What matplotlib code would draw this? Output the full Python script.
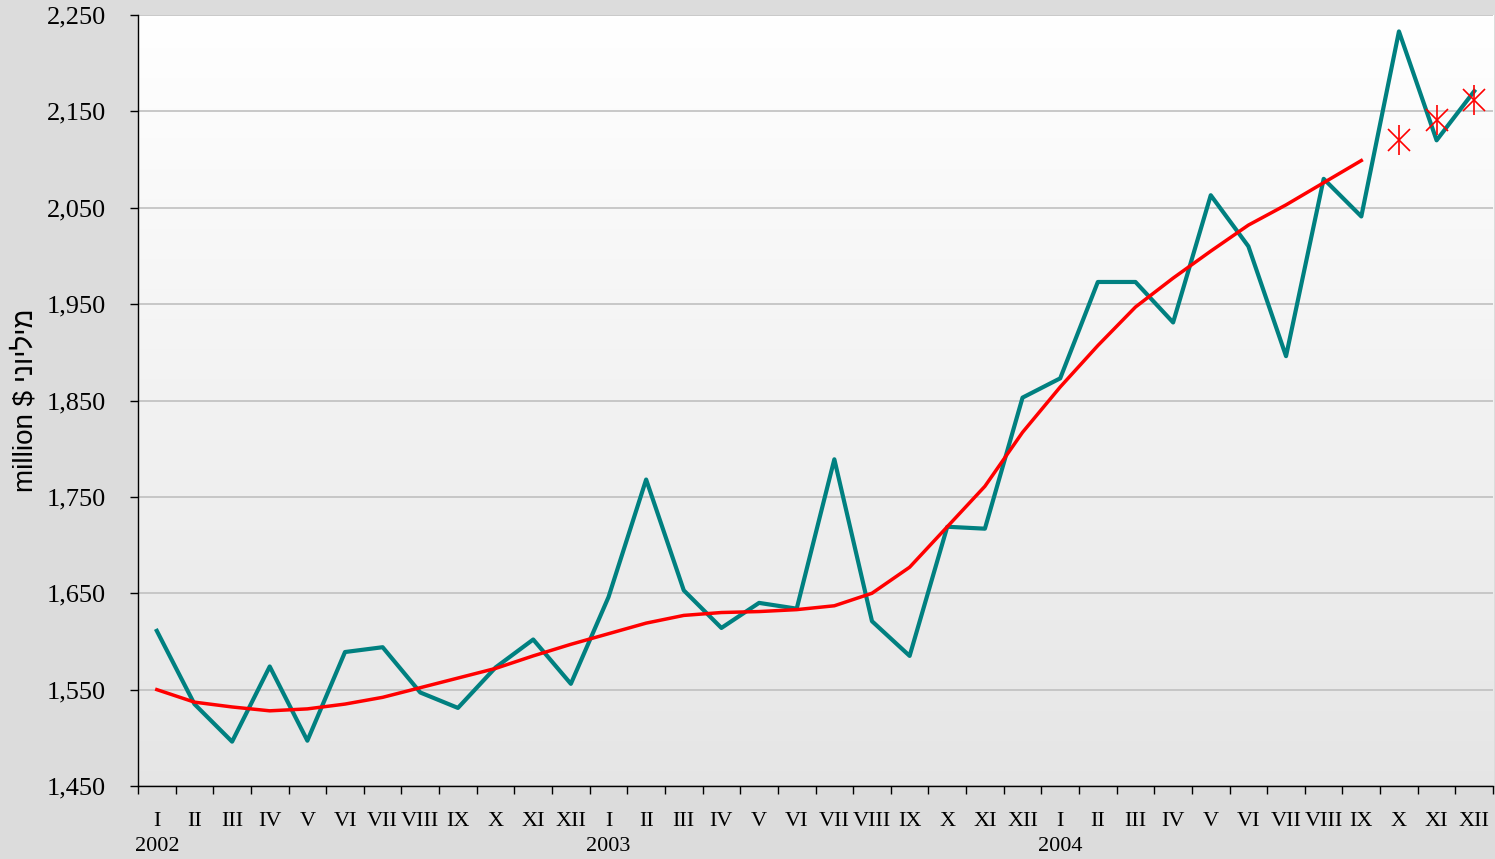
import numpy as np
import matplotlib
matplotlib.use('Agg')
from matplotlib import pyplot as plt

plt.rcParams.update({'font.size': 15})

# monthly values, Jan 2002 .. Dec 2004 (million $)
months = ['I', 'II', 'III', 'IV', 'V', 'VI', 'VII', 'VIII', 'IX', 'X', 'XI', 'XII'] * 3
years = ['2002', '2003', '2004']
actual = [1611, 1535, 1496, 1574, 1497, 1589, 1594, 1547, 1531, 1573, 1602, 1556,
          1646, 1768, 1653, 1614, 1640, 1634, 1789, 1621, 1585, 1719, 1717, 1853,
          1873, 1973, 1973, 1931, 2063, 2010, 1896, 2080, 2041, 2233, 2120, 2171]
trend = [1550, 1537, 1532, 1528, 1530, 1535, 1542, 1552, 1562, 1572, 1585, 1597,
         1608, 1619, 1627, 1630, 1631, 1633, 1637, 1650, 1677, 1719, 1761, 1817,
         1864, 1907, 1947, 1977, 2005, 2032, 2053, 2076, 2099]
forecast = [2120, 2141, 2162]   # X, XI, XII 2004

fig = plt.figure(figsize=(14.95, 8.59), dpi=100, facecolor='#dcdcdc')
ax = fig.add_axes([0.0923, 0.085, 0.9064, 0.8975])

# plot area gradient, white at top to light grey at the bottom
grad = np.linspace(1.0, 0.9, 256).reshape(-1, 1)
ax.imshow(np.dstack([grad, grad, grad]), extent=[0, 1, 0, 1], transform=ax.transAxes,
          aspect='auto', zorder=0)

x = np.arange(len(actual))
ax.plot(x, actual, color='#008080', lw=3.0, zorder=3)
ax.plot(np.arange(len(trend)), trend, color='#ff0000', lw=2.5, zorder=4)
xf = np.arange(len(trend), len(trend) + len(forecast))
ax.plot(xf, forecast, ls='none', marker='x', ms=16, mew=1.2, color='#ff0000', zorder=5)
ax.plot(xf, forecast, ls='none', marker='|', ms=22, mew=1.2, color='#ff0000', zorder=5)

ax.set_xlim(-0.5, len(actual) - 0.5)
ax.set_ylim(1450, 2250)
ax.set_yticks(np.arange(1450, 2251, 100))
ax.set_yticklabels([f'{v:,}' for v in range(1450, 2251, 100)], fontfamily='Liberation Serif',
                   fontsize=19)
ax.yaxis.grid(True, color='#c0c0c0', lw=1.2)
for gl in ax.get_ygridlines():
    gl.set_zorder(1)

ax.set_xticks(np.arange(-0.5, len(actual), 1.0))
ax.set_xticklabels([])
ax.set_xticks(x, minor=True)
ax.set_xticklabels(months, minor=True, fontfamily='Liberation Serif', fontsize=16)
ax.tick_params(axis='x', which='major', length=6, direction='out', width=1)
ax.tick_params(axis='x', which='minor', length=0, pad=19)
ax.tick_params(axis='y', length=6, width=1, pad=17)

for i, yr in enumerate(years):
    ax.text(i * 12, -0.079, yr, transform=ax.get_xaxis_transform(), ha='center', va='center',
            fontfamily='Liberation Serif', fontsize=16)

ax.set_ylabel('million $ ' + 'מיליוני'[::-1], fontfamily='Liberation Sans', fontsize=20)
ax.yaxis.set_label_coords(-0.083, 0.5)
ax.yaxis.label.set_va('center')

for s in ['top', 'right']:
    ax.spines[s].set_visible(False)
ax.spines['left'].set_linewidth(1)
ax.spines['bottom'].set_linewidth(1)

fig.savefig('out.png', dpi=100, facecolor=fig.get_facecolor())
